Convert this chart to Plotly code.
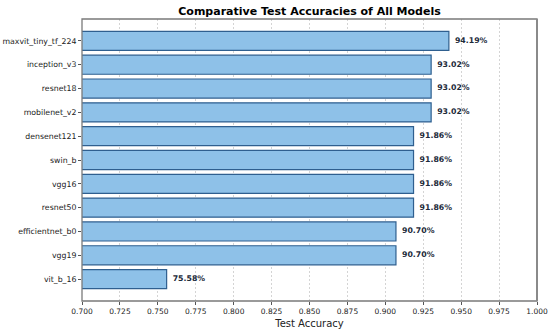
import plotly.graph_objects as go

models = ["maxvit_tiny_tf_224", "inception_v3", "resnet18", "mobilenet_v2", "densenet121",
          "swin_b", "vgg16", "resnet50", "efficientnet_b0", "vgg19", "vit_b_16"]
accuracy = [0.9419, 0.9302, 0.9302, 0.9302, 0.9186, 0.9186, 0.9186, 0.9186, 0.9070, 0.9070, 0.7558]
tick_vals = [0.700, 0.725, 0.750, 0.775, 0.800, 0.825, 0.850, 0.875, 0.900, 0.925, 0.950, 0.975, 1.000]
tick_text = [f"{v:.3f}" for v in tick_vals]
labels = [f"{a*100:.2f}%" for a in accuracy]

font = "DejaVu Sans"
fig = go.Figure()
fig.add_trace(go.Bar(
    x=accuracy, y=models, orientation="h", width=0.8,
    marker=dict(color="#8ec1e8", line=dict(color="#2f5f8f", width=1.2)),
    hoverinfo="skip", showlegend=False,
))
fig.add_trace(go.Scatter(
    x=[a + 0.004 for a in accuracy], y=models, mode="text", text=labels,
    textposition="middle right",
    textfont=dict(family=font, size=7.8, color="#1c2a3a", weight="bold"),
    showlegend=False, hoverinfo="skip", cliponaxis=False,
))
# plot frame
fig.add_shape(type="rect", xref="paper", yref="paper", x0=0, x1=1, y0=0, y1=1,
              line=dict(color="#7a7a7a", width=1.3), layer="above")
fig.add_shape(type="line", xref="paper", yref="paper", x0=1, x1=1, y0=0, y1=1,
              line=dict(color="#8a8a8a", width=2), layer="above")

fig.update_layout(
    width=550, height=332,
    margin=dict(l=82, r=13, t=19, b=31, autoexpand=False),
    paper_bgcolor="white", plot_bgcolor="white",
    title=dict(text="<b>Comparative Test Accuracies of All Models</b>", xref="paper", x=0.5,
               xanchor="center", yref="container", y=1 - 11 / 332, yanchor="middle",
               font=dict(family=font, size=11, color="black")),
    xaxis=dict(range=[0.7, 1.0], tickvals=tick_vals, ticktext=tick_text, automargin=False,
               showgrid=True, gridcolor="#d4d4d4", griddash="2px,2px", gridwidth=0.8,
               ticks="outside", ticklen=3, tickcolor="#555", showline=False, zeroline=False,
               tickfont=dict(family=font, size=7.5, color="#222"),
               title=dict(text="Test Accuracy", font=dict(family=font, size=10, color="#222"), standoff=4)),
    yaxis=dict(autorange=False, range=[10.92, -0.92], categoryorder="array", categoryarray=models,
               automargin=False, ticks="outside", ticklen=3, tickcolor="#555", showgrid=False,
               showline=False, tickfont=dict(family=font, size=7.8, color="#222")),
)
fig.write_html("out.html", config={"displayModeBar": False},
               post_script="document.body.style.margin='0';document.body.style.overflow='hidden';")
